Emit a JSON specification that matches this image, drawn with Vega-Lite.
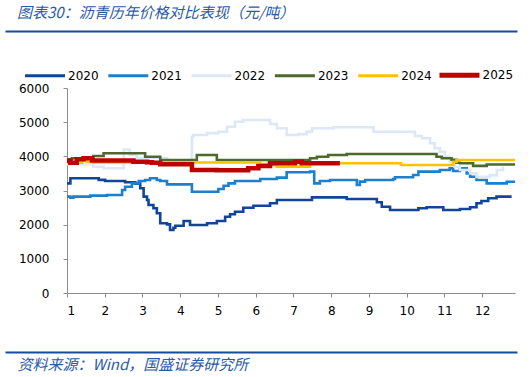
{
  "$schema": "https://vega.github.io/schema/vega-lite/v6.json",
  "autosize": {"type": "none"},
  "padding": {"left": 67, "top": 88, "right": 17, "bottom": 84},
  "width": 448,
  "height": 205,
  "background": "white",
  "config": {"view": {"stroke": null}, "font": "DejaVu Sans"},
  "title": {
    "text": "图表30：沥青历年价格对比表现（元/吨）",
    "anchor": "start",
    "frame": "group",
    "dx": -50,
    "offset": 10,
    "font": "Noto Sans CJK SC",
    "fontSize": 15,
    "fontStyle": "italic",
    "fontWeight": "normal",
    "color": "#2A5AA8"
  },
  "resolve": {"scale": {"x": "independent"}},
  "layer": [
    {
      "data": {"values": []},
      "mark": {"type": "point", "opacity": 0},
      "encoding": {
        "x": {
          "field": "d", "type": "quantitative",
          "scale": {"domain": [0, 1], "range": [-62, 450]},
          "axis": {"orient": "top", "offset": 57, "domainColor": "#174C9C", "domainWidth": 2, "ticks": false, "labels": false, "grid": false, "title": null}
        }
      }
    },
    {
      "data": {"values": []},
      "mark": {"type": "point", "opacity": 0},
      "encoding": {
        "x": {
          "field": "d", "type": "quantitative",
          "scale": {"domain": [0, 1], "range": [-62, 450]},
          "axis": {
            "orient": "bottom", "offset": 59, "domainColor": "#174C9C", "domainWidth": 2,
            "ticks": false, "labels": false, "grid": false,
            "title": "资料来源：Wind，国盛证券研究所",
            "titleX": -50, "titleY": 12, "titleAlign": "left", "titleAnchor": "start", "titleBaseline": "middle",
            "titleFont": "Noto Sans CJK SC", "titleFontSize": 15, "titleFontStyle": "italic", "titleFontWeight": "normal", "titleColor": "#2A5AA8"
          }
        }
      }
    },
    {
      "data": {"values": [
        {"year":"2020","m":1.00,"v":3210},{"year":"2020","m":1.09,"v":3357},{"year":"2020","m":1.84,"v":3310},{"year":"2020","m":2.01,"v":3280},{"year":"2020","m":2.54,"v":3240},{"year":"2020","m":2.81,"v":3200},{"year":"2020","m":2.94,"v":3065},{"year":"2020","m":3.03,"v":2820},{"year":"2020","m":3.12,"v":2720},{"year":"2020","m":3.16,"v":2575},{"year":"2020","m":3.29,"v":2480},{"year":"2020","m":3.38,"v":2333},{"year":"2020","m":3.47,"v":2040},{"year":"2020","m":3.65,"v":2010},{"year":"2020","m":3.73,"v":1844},{"year":"2020","m":3.82,"v":1911},{"year":"2020","m":3.87,"v":1970},{"year":"2020","m":4.09,"v":2107},{"year":"2020","m":4.26,"v":1990},{"year":"2020","m":4.71,"v":2040},{"year":"2020","m":4.97,"v":2107},{"year":"2020","m":5.19,"v":2233},{"year":"2020","m":5.32,"v":2303},{"year":"2020","m":5.45,"v":2380},{"year":"2020","m":5.67,"v":2497},{"year":"2020","m":5.94,"v":2555},{"year":"2020","m":6.38,"v":2626},{"year":"2020","m":6.56,"v":2722},{"year":"2020","m":7.49,"v":2800},{"year":"2020","m":8.41,"v":2751},{"year":"2020","m":9.21,"v":2655},{"year":"2020","m":9.34,"v":2526},{"year":"2020","m":9.56,"v":2430},{"year":"2020","m":10.31,"v":2480},{"year":"2020","m":10.53,"v":2509},{"year":"2020","m":10.97,"v":2430},{"year":"2020","m":11.41,"v":2459},{"year":"2020","m":11.68,"v":2509},{"year":"2020","m":11.85,"v":2626},{"year":"2020","m":11.98,"v":2693},{"year":"2020","m":12.16,"v":2771},{"year":"2020","m":12.38,"v":2820},{"year":"2020","m":12.78,"v":2820},
        {"year":"2021","m":1.00,"v":2820},{"year":"2021","m":1.09,"v":2790},{"year":"2021","m":1.17,"v":2820},{"year":"2021","m":1.62,"v":2850},{"year":"2021","m":2.06,"v":2870},{"year":"2021","m":2.46,"v":3015},{"year":"2021","m":2.54,"v":3110},{"year":"2021","m":2.72,"v":3210},{"year":"2021","m":2.90,"v":3280},{"year":"2021","m":3.07,"v":3307},{"year":"2021","m":3.20,"v":3357},{"year":"2021","m":3.38,"v":3307},{"year":"2021","m":3.47,"v":3280},{"year":"2021","m":3.65,"v":3180},{"year":"2021","m":4.31,"v":2965},{"year":"2021","m":5.01,"v":3044},{"year":"2021","m":5.15,"v":3140},{"year":"2021","m":5.28,"v":3210},{"year":"2021","m":5.45,"v":3280},{"year":"2021","m":6.12,"v":3337},{"year":"2021","m":6.56,"v":3376},{"year":"2021","m":6.82,"v":3532},{"year":"2021","m":7.44,"v":3552},{"year":"2021","m":7.55,"v":3210},{"year":"2021","m":7.70,"v":3280},{"year":"2021","m":7.97,"v":3307},{"year":"2021","m":8.68,"v":3161},{"year":"2021","m":8.76,"v":3260},{"year":"2021","m":8.90,"v":3307},{"year":"2021","m":9.64,"v":3337},{"year":"2021","m":9.69,"v":3386},{"year":"2021","m":10.17,"v":3454},{"year":"2021","m":10.31,"v":3551},{"year":"2021","m":10.88,"v":3600},{"year":"2021","m":11.14,"v":3649},{"year":"2021","m":11.23,"v":3571},{"year":"2021","m":11.41,"v":3649},{"year":"2021","m":11.59,"v":3500},{"year":"2021","m":11.68,"v":3404},{"year":"2021","m":11.85,"v":3307},{"year":"2021","m":12.12,"v":3210},{"year":"2021","m":12.65,"v":3258},{"year":"2021","m":12.87,"v":3258},
        {"year":"2022","m":1.00,"v":3767},{"year":"2022","m":1.70,"v":3697},{"year":"2022","m":1.97,"v":3650},{"year":"2022","m":2.50,"v":4200},{"year":"2022","m":2.66,"v":4040},{"year":"2022","m":2.85,"v":3950},{"year":"2022","m":3.65,"v":3880},{"year":"2022","m":4.31,"v":4575},{"year":"2022","m":4.35,"v":4625},{"year":"2022","m":4.71,"v":4680},{"year":"2022","m":5.01,"v":4721},{"year":"2022","m":5.24,"v":4868},{"year":"2022","m":5.45,"v":5014},{"year":"2022","m":5.67,"v":5064},{"year":"2022","m":6.38,"v":4947},{"year":"2022","m":6.56,"v":4820},{"year":"2022","m":6.82,"v":4625},{"year":"2022","m":7.13,"v":4650},{"year":"2022","m":7.35,"v":4721},{"year":"2022","m":7.49,"v":4820},{"year":"2022","m":8.06,"v":4850},{"year":"2022","m":9.12,"v":4721},{"year":"2022","m":10.22,"v":4595},{"year":"2022","m":10.40,"v":4528},{"year":"2022","m":10.62,"v":4382},{"year":"2022","m":10.74,"v":4235},{"year":"2022","m":10.88,"v":4136},{"year":"2022","m":11.01,"v":3990},{"year":"2022","m":11.14,"v":3843},{"year":"2022","m":11.27,"v":3697},{"year":"2022","m":11.41,"v":3600},{"year":"2022","m":11.68,"v":3500},{"year":"2022","m":11.85,"v":3400},{"year":"2022","m":12.20,"v":3450},{"year":"2022","m":12.39,"v":3600},{"year":"2022","m":12.55,"v":3700},
        {"year":"2023","m":1.00,"v":3913},{"year":"2023","m":1.13,"v":3943},{"year":"2023","m":1.70,"v":4010},{"year":"2023","m":1.97,"v":4089},{"year":"2023","m":3.07,"v":3990},{"year":"2023","m":3.47,"v":3893},{"year":"2023","m":4.44,"v":4040},{"year":"2023","m":4.97,"v":3893},{"year":"2023","m":7.44,"v":3943},{"year":"2023","m":7.62,"v":3990},{"year":"2023","m":7.92,"v":4040},{"year":"2023","m":8.41,"v":4069},{"year":"2023","m":10.79,"v":3990},{"year":"2023","m":10.93,"v":3943},{"year":"2023","m":11.19,"v":3900},{"year":"2023","m":11.32,"v":3814},{"year":"2023","m":11.41,"v":3796},{"year":"2023","m":11.76,"v":3720},{"year":"2023","m":12.12,"v":3760},{"year":"2023","m":12.87,"v":3760},
        {"year":"2024","m":1.00,"v":3814},{"year":"2024","m":1.40,"v":3872},{"year":"2024","m":1.53,"v":3843},{"year":"2024","m":1.70,"v":3820},{"year":"2024","m":6.12,"v":3776},{"year":"2024","m":6.43,"v":3747},{"year":"2024","m":6.56,"v":3697},{"year":"2024","m":7.44,"v":3796},{"year":"2024","m":9.85,"v":3747},{"year":"2024","m":11.23,"v":3843},{"year":"2024","m":11.32,"v":3893},{"year":"2024","m":12.87,"v":3893},
        {"year":"2025","m":1.00,"v":3872},{"year":"2025","m":1.09,"v":3814},{"year":"2025","m":1.26,"v":3913},{"year":"2025","m":1.44,"v":3943},{"year":"2025","m":1.66,"v":3880},{"year":"2025","m":2.76,"v":3843},{"year":"2025","m":3.12,"v":3830},{"year":"2025","m":3.25,"v":3814},{"year":"2025","m":3.47,"v":3770},{"year":"2025","m":4.31,"v":3600},{"year":"2025","m":4.97,"v":3590},{"year":"2025","m":5.80,"v":3650},{"year":"2025","m":6.07,"v":3717},{"year":"2025","m":6.38,"v":3796},{"year":"2025","m":7.04,"v":3843},{"year":"2025","m":7.22,"v":3796},{"year":"2025","m":8.23,"v":3796}
      ]},
      "mark": {"type": "line", "interpolate": "step-after"},
      "encoding": {
        "x": {
          "field": "m", "type": "quantitative",
          "scale": {"domain": [1, 12.87], "nice": false, "zero": false},
          "axis": {"orient": "bottom", "values": [1,2,3,4,5,6,7,8,9,10,11,12], "format": "d", "tickSize": 4, "labelPadding": 8, "domainColor": "#8C8C8C", "tickColor": "#8C8C8C", "labelColor": "#000000", "labelFontSize": 12, "labelFont": "DejaVu Sans", "title": null, "grid": false}
        },
        "y": {
          "field": "v", "type": "quantitative",
          "scale": {"domain": [0, 6000], "nice": false},
          "axis": {"values": [0,1000,2000,3000,4000,5000,6000], "format": "d", "tickSize": 4, "labelPadding": 14, "domainColor": "#8C8C8C", "tickColor": "#8C8C8C", "labelColor": "#000000", "labelFontSize": 12, "labelFont": "DejaVu Sans", "title": null, "grid": false}
        },
        "color": {
          "field": "year", "type": "nominal",
          "scale": {"domain": ["2020","2021","2022","2023","2024","2025"], "range": ["#12449A","#1E7FCB","#DCE8F6","#4B6A2B","#FFC000","#C00000"]},
          "legend": {
            "title": null, "orient": "none", "legendX": -43.5, "legendY": -34.5, "direction": "horizontal", "columns": 6,
            "symbolType": "stroke", "symbolSize": 1600, "symbolStrokeWidth": 3,
            "labelFontSize": 12, "labelFont": "DejaVu Sans", "labelColor": "#000000", "labelOffset": 1.5, "columnPadding": 2.3, "padding": 0,
            "encode": {"symbols": {"update": {"shape": {"signal": "datum.value === '2025' ? 'M-0.925,-0.05H0.925V0.05H-0.925Z' : 'stroke'"}}}}
          }
        },
        "strokeWidth": {"condition": {"test": "datum.year === '2025'", "value": 4.5}, "value": 2.6}
      }
    }
  ]
}
